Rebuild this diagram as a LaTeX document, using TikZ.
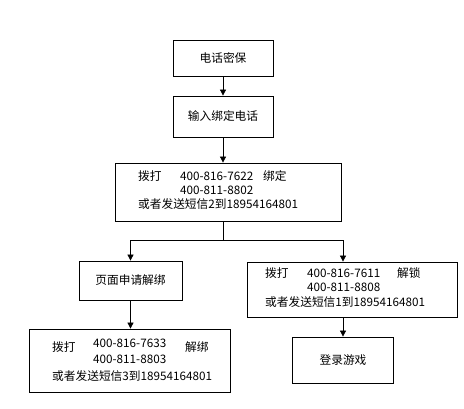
\documentclass[tikz,border=0pt]{standalone}
\usepackage{fontspec}
\setmainfont{Noto Sans CJK SC}
\usepackage{tikz}
\usetikzlibrary{arrows.meta}
\usetikzlibrary{positioning}

\begin{document}
\begin{tikzpicture}[x=1pt, y=-1pt,
    box/.style={draw, line width=0.8pt, inner sep=0pt, font=\fontsize{11.7}{14}\selectfont},
    txt/.style={anchor=west, inner sep=0pt, font=\fontsize{11.7}{14}\selectfont},
    arr/.style={line width=0.8pt, -{Triangle[width=6pt,length=6pt]}}]
    \useasboundingbox[fill=white] (0,0) rectangle (464,409);
    % boxes
    \node[box, minimum width=100pt, minimum height=36pt] (mibao) at (223,58) {电话密保};
    \node[box, minimum width=100pt, minimum height=41pt] (shuru) at (223,116.5) {输入绑定电话};
    \node[box, minimum width=226pt, minimum height=58pt] (bangding) at (228,192) {};
    \node[box, minimum width=103pt, minimum height=39pt] (yemian) at (130.5,280.5) {页面申请解绑};
    \node[box, minimum width=201pt, minimum height=63pt] (jiebang) at (129.5,360.5) {};
    \node[box, minimum width=210pt, minimum height=55pt] (jiesuo) at (352,289.5) {};
    \node[box, minimum width=101pt, minimum height=46pt] (denglu) at (343,360) {登录游戏};
    % texts
    \node[txt] (b3a) at (138,176) {拨打};
    \node[txt] (b3b) at (180,176) {400-816-7622};
    \node[txt] (b3c) at (263,176) {绑定};
    \node[txt] (b3d) at (180,190) {400-811-8802};
    \node[txt] (b3e) at (138,204) {或者发送短信2到18954164801};
    \node[txt] (b5a) at (52,347) {拨打};
    \node[txt] (b5b) at (93,343) {400-816-7633};
    \node[txt] (b5c) at (185,347) {解绑};
    \node[txt] (b5d) at (93,359) {400-811-8803};
    \node[txt] (b5e) at (52,376) {或者发送短信3到18954164801};
    \node[txt] (b6a) at (265,273) {拨打};
    \node[txt] (b6b) at (307,273) {400-816-7611};
    \node[txt] (b6c) at (397,273) {解锁};
    \node[txt] (b6d) at (307,287) {400-811-8808};
    \node[txt] (b6e) at (265,302) {或者发送短信1到18954164801};
    % connectors
    \coordinate (fork) at (223,240);
    \coordinate (rt) at (343,240);
    \draw[arr] (mibao) -- (shuru);
    \draw[arr] (shuru.south) -- (shuru.south |- bangding.north);
    \draw[line width=0.8pt] (fork |- bangding.south) -- (fork);
    \draw[arr] (fork) -| (yemian.north);
    \draw[arr] (fork) -- (rt) -- (rt |- jiesuo.north);
    \draw[arr] (yemian) -- (yemian.south |- jiebang.north);
    \draw[arr] (denglu.north |- jiesuo.south) -- (denglu.north);
\end{tikzpicture}
\end{document}
